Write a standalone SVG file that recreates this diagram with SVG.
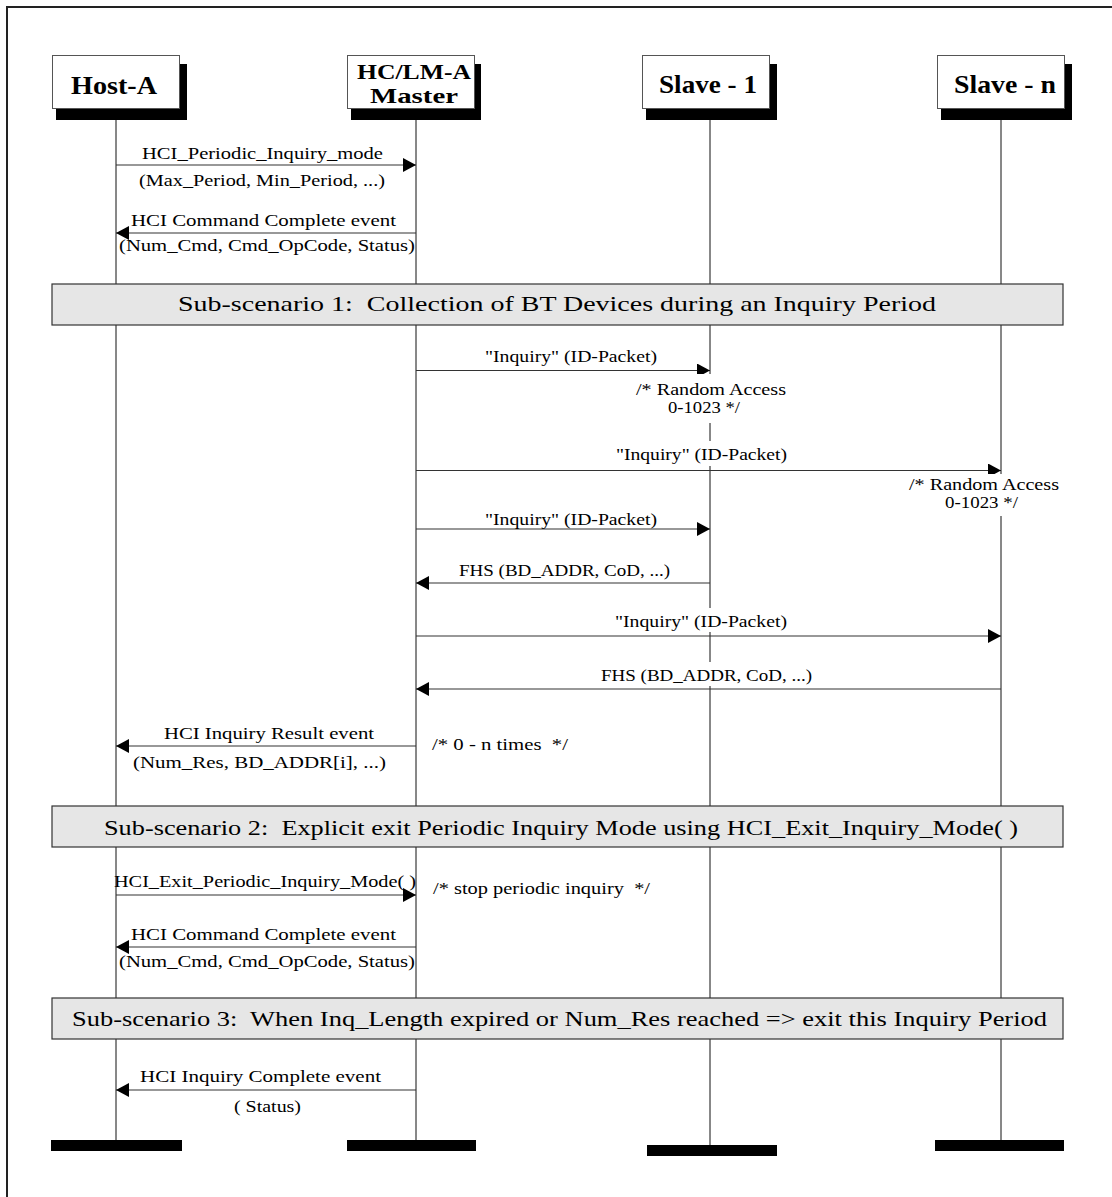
<svg xmlns="http://www.w3.org/2000/svg" width="1112" height="1197" viewBox="0 0 1112 1197">
<style>
.hdr{font-family:"Liberation Serif","Times New Roman",serif;font-weight:bold;font-size:26px;fill:#000}
.hdr2{font-family:"Liberation Serif","Times New Roman",serif;font-weight:bold;font-size:21px;fill:#000}
.lbl{font-family:"Liberation Serif","Times New Roman",serif;font-size:16px;fill:#000}
.scn{font-family:"Liberation Serif","Times New Roman",serif;font-size:22px;fill:#000}
.box{fill:#fff;stroke:#555;stroke-width:1}
.shadow{fill:#000}
.life{stroke:#111;stroke-width:1}
.msg{stroke:#333;stroke-width:1.2;fill:none;marker-end:url(#ah)}
.bg{fill:#fff}
.sbox{fill:#e6e6e6;stroke:#333;stroke-width:1.2}
.bar{fill:#000}
</style>
<defs>
<marker id="ah" markerUnits="userSpaceOnUse" markerWidth="14" markerHeight="15" refX="13" refY="7" orient="auto">
<path d="M0,0 L13,7 L0,14 z" fill="#000"/>
</marker>
</defs>
<rect width="1112" height="1197" fill="#fff"/>
<path d="M7,1197 V7 H1112" fill="none" stroke="#222" stroke-width="2"/>

<g id="lifelines">
<line class="life" x1="116" y1="120" x2="116" y2="1140"/>
<line class="life" x1="416" y1="120" x2="416" y2="1140"/>
<line class="life" x1="710" y1="120" x2="710" y2="1145"/>
<line class="life" x1="1001" y1="120" x2="1001" y2="1140"/>
</g>

<g id="host-a">
<rect class="shadow" x="56" y="64" width="131" height="56"/>
<rect class="box" x="52.5" y="55.5" width="127" height="53"/>
<text class="hdr" x="71" y="94" textLength="86" lengthAdjust="spacingAndGlyphs">Host-A</text>
<rect class="bar" x="51" y="1140" width="131" height="11"/>
</g>
<g id="hclm-a">
<rect class="shadow" x="351" y="64" width="130" height="56"/>
<rect class="box" x="347.5" y="55.5" width="127" height="53"/>
<text class="hdr2" x="357" y="79" textLength="114" lengthAdjust="spacingAndGlyphs">HC/LM-A</text>
<text class="hdr2" x="370" y="103" textLength="88" lengthAdjust="spacingAndGlyphs">Master</text>
<rect class="bar" x="347" y="1140" width="129" height="11"/>
</g>
<g id="slave-1">
<rect class="shadow" x="646" y="64" width="131" height="56"/>
<rect class="box" x="642.5" y="55.5" width="127" height="53"/>
<text class="hdr" x="659" y="93" textLength="98" lengthAdjust="spacingAndGlyphs">Slave - 1</text>
<rect class="bar" x="647" y="1145" width="130" height="11"/>
</g>
<g id="slave-n">
<rect class="shadow" x="941" y="64" width="131" height="56"/>
<rect class="box" x="937.5" y="55.5" width="127" height="53"/>
<text class="hdr" x="954" y="93" textLength="102" lengthAdjust="spacingAndGlyphs">Slave - n</text>
<rect class="bar" x="935" y="1140" width="129" height="11"/>
</g>

<g id="scenario-1">
<rect class="sbox" x="52" y="284" width="1011" height="41"/>
<text class="scn" x="178" y="311" textLength="758" lengthAdjust="spacingAndGlyphs" xml:space="preserve">Sub-scenario 1:  Collection of BT Devices during an Inquiry Period</text>
</g>
<g id="scenario-2">
<rect class="sbox" x="52" y="806" width="1011" height="41"/>
<text class="scn" x="104" y="835" textLength="914" lengthAdjust="spacingAndGlyphs" xml:space="preserve">Sub-scenario 2:  Explicit exit Periodic Inquiry Mode using HCI_Exit_Inquiry_Mode( )</text>
</g>
<g id="scenario-3">
<rect class="sbox" x="52" y="998" width="1011" height="41"/>
<text class="scn" x="72" y="1026" textLength="975" lengthAdjust="spacingAndGlyphs" xml:space="preserve">Sub-scenario 3:  When Inq_Length expired or Num_Res reached =&gt; exit this Inquiry Period</text>
</g>

<g id="connectors">
<line class="msg" x1="116" y1="165" x2="416" y2="165"/>
<line class="msg" x1="416" y1="233" x2="116" y2="233"/>
<line class="msg" x1="416" y1="370.5" x2="710" y2="370.5"/>
<line class="msg" x1="416" y1="470.5" x2="1001" y2="470.5"/>
<line class="msg" x1="416" y1="529" x2="710" y2="529"/>
<line class="msg" x1="710" y1="583" x2="416" y2="583"/>
<line class="msg" x1="416" y1="636" x2="1001" y2="636"/>
<line class="msg" x1="1001" y1="689" x2="416" y2="689"/>
<line class="msg" x1="416" y1="746" x2="116" y2="746"/>
<line class="msg" x1="116" y1="895" x2="416" y2="895"/>
<line class="msg" x1="416" y1="947" x2="116" y2="947"/>
<line class="msg" x1="416" y1="1090" x2="116" y2="1090"/>
</g>

<g id="labels">
<text class="lbl" x="142" y="159" textLength="241" lengthAdjust="spacingAndGlyphs">HCI_Periodic_Inquiry_mode</text>
<text class="lbl" x="139" y="186" textLength="246" lengthAdjust="spacingAndGlyphs">(Max_Period, Min_Period, ...)</text>
<text class="lbl" x="131" y="226" textLength="265" lengthAdjust="spacingAndGlyphs">HCI Command Complete event</text>
<text class="lbl" x="119" y="251" textLength="296" lengthAdjust="spacingAndGlyphs">(Num_Cmd, Cmd_OpCode, Status)</text>

<text class="lbl" x="485" y="362" textLength="172" lengthAdjust="spacingAndGlyphs">"Inquiry" (ID-Packet)</text>
<rect class="bg" x="630" y="374" width="162" height="49"/>
<text class="lbl" x="636" y="395" textLength="150" lengthAdjust="spacingAndGlyphs">/* Random Access</text>
<text class="lbl" x="668" y="413" textLength="72" lengthAdjust="spacingAndGlyphs">0-1023 */</text>

<rect class="bg" x="612" y="441" width="178" height="25"/>
<text class="lbl" x="616" y="460" textLength="171" lengthAdjust="spacingAndGlyphs">"Inquiry" (ID-Packet)</text>
<rect class="bg" x="905" y="474" width="157" height="42"/>
<text class="lbl" x="909" y="490" textLength="150" lengthAdjust="spacingAndGlyphs">/* Random Access</text>
<text class="lbl" x="945" y="508" textLength="73" lengthAdjust="spacingAndGlyphs">0-1023 */</text>

<text class="lbl" x="485" y="525" textLength="172" lengthAdjust="spacingAndGlyphs">"Inquiry" (ID-Packet)</text>
<text class="lbl" x="459" y="576" textLength="211" lengthAdjust="spacingAndGlyphs">FHS (BD_ADDR, CoD, ...)</text>

<rect class="bg" x="612" y="608" width="178" height="24"/>
<text class="lbl" x="615" y="627" textLength="172" lengthAdjust="spacingAndGlyphs">"Inquiry" (ID-Packet)</text>
<rect class="bg" x="597" y="662" width="218" height="24"/>
<text class="lbl" x="601" y="681" textLength="211" lengthAdjust="spacingAndGlyphs">FHS (BD_ADDR, CoD, ...)</text>

<text class="lbl" x="164" y="739" textLength="210" lengthAdjust="spacingAndGlyphs">HCI Inquiry Result event</text>
<text class="lbl" x="133" y="768" textLength="253" lengthAdjust="spacingAndGlyphs">(Num_Res, BD_ADDR[i], ...)</text>
<text class="lbl" x="432" y="750" textLength="136" lengthAdjust="spacingAndGlyphs" xml:space="preserve">/* 0 - n times  */</text>

<text class="lbl" x="114" y="887" textLength="302" lengthAdjust="spacingAndGlyphs">HCI_Exit_Periodic_Inquiry_Mode( )</text>
<text class="lbl" x="433" y="894" textLength="217" lengthAdjust="spacingAndGlyphs" xml:space="preserve">/* stop periodic inquiry  */</text>
<text class="lbl" x="131" y="940" textLength="265" lengthAdjust="spacingAndGlyphs">HCI Command Complete event</text>
<text class="lbl" x="119" y="967" textLength="296" lengthAdjust="spacingAndGlyphs">(Num_Cmd, Cmd_OpCode, Status)</text>

<text class="lbl" x="140" y="1082" textLength="241" lengthAdjust="spacingAndGlyphs">HCI Inquiry Complete event</text>
<text class="lbl" x="234" y="1112" textLength="67" lengthAdjust="spacingAndGlyphs">( Status)</text>
</g>
</svg>
